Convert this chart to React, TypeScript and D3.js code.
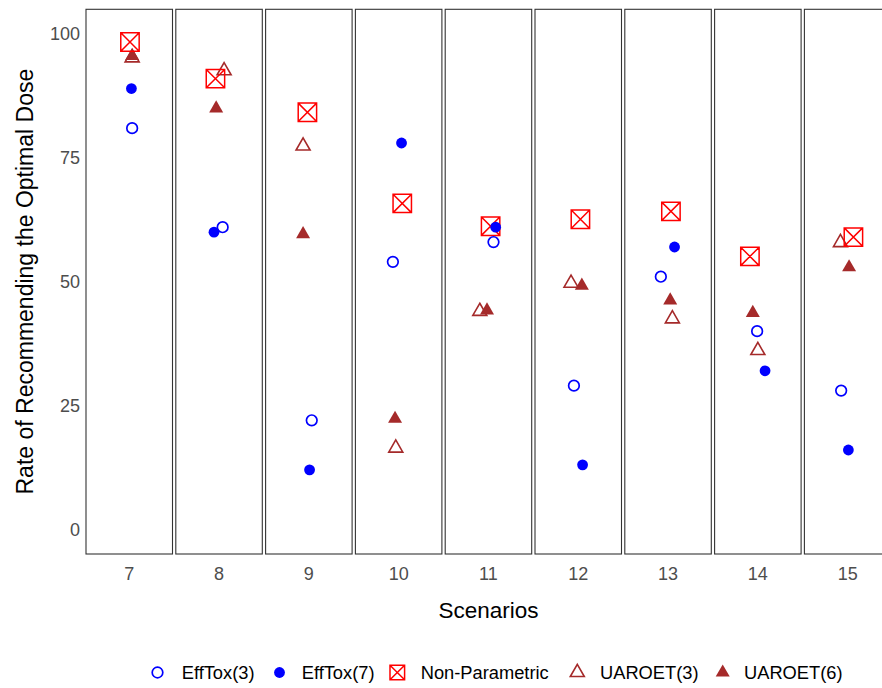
import React from "react";
import * as d3 from "d3";

const scenarios = [7, 8, 9, 10, 11, 12, 13, 14, 15];
const efftox3 = [81, 61, 22, 54, 58, 29, 51, 40, 28];
const efftox7 = [89, 60, 12, 78, 61, 13, 57, 32, 16];
const nonParam = [98.4, 91, 84.2, 65.8, 61.2, 62.6, 64.2, 55.1, 59];
const uaroet3 = [95.2, 92.6, 77.4, 16.4, 44, 49.7, 42.5, 36.1, 57.9];
const uaroet6 = [95.6, 85, 59.6, 22.3, 44.2, 49.2, 46.2, 43.7, 52.9];

// horizontal jitter (in within-panel x units)
const efftox3J = [0.04, 0.05, 0.04, -0.08, 0.07, -0.06, -0.1, -0.01, -0.09];
const efftox7J = [0.03, -0.07, 0.01, 0.04, 0.1, 0.06, 0.09, 0.1, 0.01];
const nonParamJ = [0.01, -0.05, -0.02, 0.05, 0.03, 0.03, 0.04, -0.11, 0.08];
const uaroet3J = [0.04, 0.07, -0.08, -0.04, -0.12, -0.1, 0.06, 0.0, -0.1];
const uaroet6J = [0.04, -0.04, -0.08, -0.05, -0.02, 0.05, 0.03, -0.07, 0.02];

const yTicks = [0, 25, 50, 75, 100];
const seriesNames = ["EffTox(3)", "EffTox(7)", "Non-Parametric", "UAROET(3)", "UAROET(6)"];

const BLUE = "#0000FF";
const RED = "#FF0000";
const BROWN = "#A52A2A";

type Shape = "openCircle" | "filledCircle" | "squareX" | "openTri" | "filledTri";

function Marker({ shape, x, y, big }: { shape: Shape; x: number; y: number; big?: boolean }) {
  if (shape === "openCircle")
    return <circle cx={x} cy={y} r={5.3} fill="none" stroke={BLUE} strokeWidth={1.7} />;
  if (shape === "filledCircle") return <circle cx={x} cy={y} r={5.4} fill={BLUE} />;
  if (shape === "squareX") {
    const h = big ? 9.2 : 7.3;
    const d = `M${x - h},${y - h}H${x + h}V${y + h}H${x - h}Z M${x - h},${y - h}L${x + h},${y + h} M${x + h},${y - h}L${x - h},${y + h}`;
    return <path d={d} fill="none" stroke={RED} strokeWidth={1.5} />;
  }
  const d = `M${x},${y - 8.1}L${x + 7},${y + 4.05}L${x - 7},${y + 4.05}Z`;
  if (shape === "openTri") return <path d={d} fill="none" stroke={BROWN} strokeWidth={1.6} strokeLinejoin="miter" />;
  return <path d={d} fill={BROWN} />;
}

export default function App() {
  const W = 882;
  const H = 688;
  const top = 9.3;
  const bottom = 554;
  const left = 86;

  const band = d3
    .scaleBand<number>()
    .domain(scenarios)
    .range([left, left + 9 * 89.8 - 3.3])
    .paddingInner(3.3 / 89.8)
    .paddingOuter(0);
  const y = d3.scaleLinear().domain([-5, 105]).range([bottom, top]);
  const bw = band.bandwidth();
  const inner = d3.scaleLinear().domain([-0.6, 0.6]).range([0, bw]);

  // draw order: UAROET(3), UAROET(6), NP, EffTox(7), EffTox(3)
  const layers: { shape: Shape; vals: number[]; jit: number[] }[] = [
    { shape: "openTri", vals: uaroet3, jit: uaroet3J },
    { shape: "filledTri", vals: uaroet6, jit: uaroet6J },
    { shape: "squareX", vals: nonParam, jit: nonParamJ },
    { shape: "filledCircle", vals: efftox7, jit: efftox7J },
    { shape: "openCircle", vals: efftox3, jit: efftox3J },
  ];

  const legendShapes: Shape[] = ["openCircle", "filledCircle", "squareX", "openTri", "filledTri"];
  const legendKeyX = [157.5, 279.5, 397.3, 577.3, 722.7];
  const legendTextX = [181.7, 301.7, 420.7, 600, 744];
  const legendY = 672.5;

  const font = "'Liberation Sans', Arial, Helvetica, sans-serif";

  return (
    <svg
      width={W}
      height={H}
      style={{ position: "absolute", left: 0, top: 0, background: "#fff" }}
      fontFamily={font}
    >
      <rect x={0} y={0} width={W} height={H} fill="#fff" />
      {/* panels */}
      {scenarios.map((s) => (
        <g key={s}>
          <rect
            x={band(s)!}
            y={top}
            width={bw}
            height={bottom - top}
            fill="#fff"
            stroke="#333333"
            strokeWidth={1.1}
          />
          <text x={band(s)! + bw / 2} y={580} textAnchor="middle" fontSize={18} fill="#4D4D4D">
            {s}
          </text>
        </g>
      ))}
      {/* points */}
      {scenarios.map((s, i) => (
        <g key={"p" + s}>
          {layers.map((l, li) => (
            <Marker
              key={li}
              shape={l.shape}
              x={band(s)! + inner(l.jit[i])}
              y={y(l.vals[i])}
              big
            />
          ))}
        </g>
      ))}
      {/* y ticks */}
      {yTicks.map((t) => (
        <text key={t} x={80} y={y(t) + 6.3} textAnchor="end" fontSize={18} fill="#4D4D4D">
          {t}
        </text>
      ))}
      {/* axis titles */}
      <text x={488.5} y={618} textAnchor="middle" fontSize={22.5} fill="#000">
        Scenarios
      </text>
      <text
        transform={`translate(33,${(top + bottom) / 2}) rotate(-90)`}
        textAnchor="middle"
        fontSize={23}
        fill="#000"
      >
        Rate of Recommending the Optimal Dose
      </text>
      {/* legend */}
      {seriesNames.map((n, i) => (
        <g key={n}>
          <Marker shape={legendShapes[i]} x={legendKeyX[i]} y={legendY} />
          <text x={legendTextX[i]} y={legendY + 6.4} fontSize={18.3} fill="#000">
            {n}
          </text>
        </g>
      ))}
    </svg>
  );
}
